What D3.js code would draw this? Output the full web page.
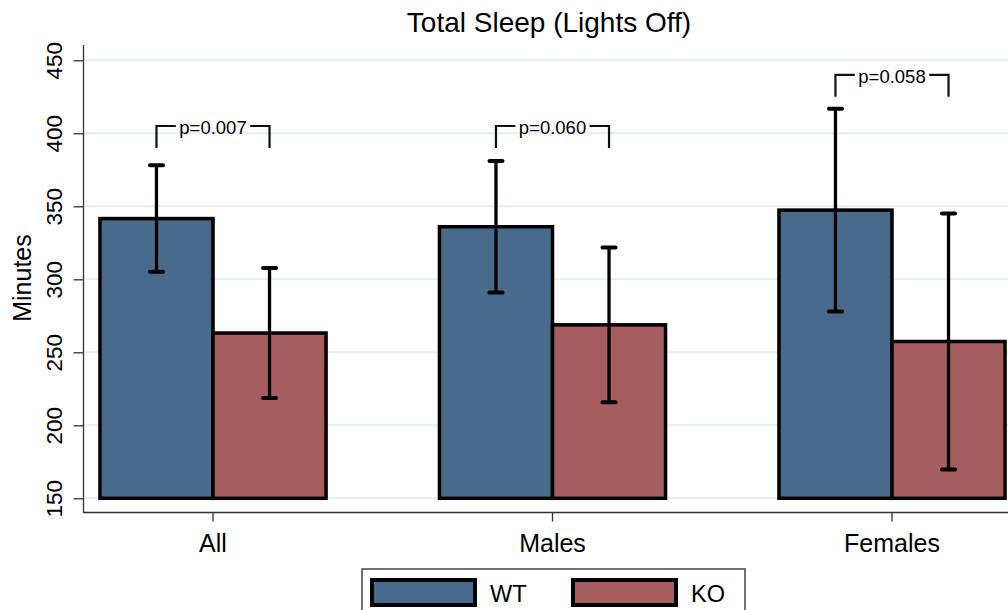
<!DOCTYPE html>
<html>
<head>
<meta charset="utf-8">
<script src="https://cdn.jsdelivr.net/npm/d3@7"></script>
<style>
  html, body { margin: 0; padding: 0; background: #fff; }
  svg { display: block; font-family: "Liberation Sans", Arial, sans-serif; }
</style>
</head>
<body>
<svg id="chart" width="1008" height="610"></svg>
<script>
// ---- data ----
const categories = ["All", "Males", "Females"];
const groups = ["WT", "KO"];
const wtMean = [341.6, 336.0, 347.4];
const wtErr  = [36.5, 45.0, 69.5];
const koMean = [263.2, 268.8, 257.4];
const koErr  = [44.5, 53.0, 87.7];
const pLabels = ["p=0.007", "p=0.060", "p=0.058"];
const bracketTop = [405, 405, 440];
const bracketLeg = [390, 390, 425];
const yTicks = [150, 200, 250, 300, 350, 400, 450];
const colors = { WT: "#486a8b", KO: "#a65d60" };

const rows = categories.map((c, i) => ({
  cat: c,
  bars: [
    { g: "WT", mean: wtMean[i], err: wtErr[i] },
    { g: "KO", mean: koMean[i], err: koErr[i] }
  ]
}));

const svg = d3.select("#chart");
const W = 1008, H = 610;
const axisX = 83.5, axisBottom = 512.5, axisTop = 45;

const y = d3.scaleLinear().domain([150, 450]).range([498.3, 60.3]);
const x = d3.scaleBand().domain(categories).range([84, 1021])
  .paddingInner(0.334).paddingOuter(0.047);
const xi = d3.scaleBand().domain(groups).range([0, x.bandwidth()]);

// gridlines
svg.append("g").selectAll("line").data(yTicks).join("line")
  .attr("x1", axisX + 1).attr("x2", W)
  .attr("y1", d => y(d)).attr("y2", d => y(d))
  .attr("stroke", "#e6eff2").attr("stroke-width", 2);

// axes
const yAxis = d3.axisLeft(y).tickValues(yTicks).tickSize(10).tickFormat(d3.format("d"));
const yg = svg.append("g").attr("transform", `translate(${axisX},0)`).call(yAxis);
yg.select(".domain").remove();
yg.selectAll(".tick line").attr("stroke", "#333").attr("stroke-width", 1.3);
yg.selectAll(".tick text")
  .attr("x", 0).attr("y", 0).attr("dy", 0)
  .attr("transform", "translate(-22,0) rotate(-90)")
  .attr("text-anchor", "middle")
  .attr("font-size", 22.5).attr("fill", "#000")
  .attr("font-family", "Liberation Sans, Arial, sans-serif");
svg.append("line").attr("x1", axisX).attr("x2", axisX)
  .attr("y1", axisTop).attr("y2", axisBottom + 0.5)
  .attr("stroke", "#333").attr("stroke-width", 1.3);

const xAxis = d3.axisBottom(x).tickSize(9);
const xg = svg.append("g").attr("transform", `translate(0,${axisBottom})`).call(xAxis);
xg.select(".domain").remove();
xg.selectAll(".tick line").attr("stroke", "#333").attr("stroke-width", 1.3);
xg.selectAll(".tick text").attr("y", 0).attr("dy", 0)
  .attr("transform", "translate(0,39)")
  .attr("font-size", 25).attr("fill", "#000")
  .attr("font-family", "Liberation Sans, Arial, sans-serif");
svg.append("line").attr("x1", axisX).attr("x2", W)
  .attr("y1", axisBottom).attr("y2", axisBottom)
  .attr("stroke", "#333").attr("stroke-width", 1.3);

// bars
const gGroups = svg.append("g").selectAll("g").data(rows).join("g")
  .attr("transform", d => `translate(${x(d.cat)},0)`);

gGroups.selectAll("rect").data(d => d.bars).join("rect")
  .attr("x", d => xi(d.g))
  .attr("width", xi.bandwidth())
  .attr("y", d => y(d.mean))
  .attr("height", d => y(150) - y(d.mean))
  .attr("fill", d => colors[d.g])
  .attr("stroke", "#000").attr("stroke-width", 3.5);

// error bars
const eb = gGroups.selectAll("g.eb").data(d => d.bars).join("g").attr("class", "eb")
  .attr("transform", d => `translate(${xi(d.g) + xi.bandwidth() / 2},0)`);
eb.append("line")
  .attr("x1", 0).attr("x2", 0)
  .attr("y1", d => y(d.mean + d.err)).attr("y2", d => y(d.mean - d.err))
  .attr("stroke", "#000").attr("stroke-width", 3.3);
eb.selectAll("line.cap").data(d => [d.mean + d.err, d.mean - d.err]).join("line")
  .attr("class", "cap")
  .attr("x1", -6.5).attr("x2", 6.5)
  .attr("y1", v => y(v)).attr("y2", v => y(v))
  .attr("stroke", "#000").attr("stroke-width", 4).attr("stroke-linecap", "round");

// p-value brackets
rows.forEach((r, i) => {
  const gx = x(r.cat);
  const xl = gx + xi("WT") + xi.bandwidth() / 2;
  const xr = gx + xi("KO") + xi.bandwidth() / 2;
  const yt = y(bracketTop[i]), yl = y(bracketLeg[i]);
  const xm = (xl + xr) / 2;
  const t = svg.append("text").attr("x", xm).attr("y", yt + 8)
    .attr("text-anchor", "middle").attr("font-size", 18.5).attr("fill", "#000")
    .text(pLabels[i]);
  const tw = t.node().getComputedTextLength();
  const gap = 3.5;
  const path = `M${xl},${yl}V${yt}H${xm - tw / 2 - gap}M${xm + tw / 2 + gap},${yt}H${xr}V${yl}`;
  svg.append("path").attr("d", path).attr("fill", "none")
    .attr("stroke", "#111").attr("stroke-width", 2.2);
});

// title
svg.append("text").attr("x", 549).attr("y", 32).attr("text-anchor", "middle")
  .attr("font-size", 28).attr("fill", "#000").text("Total Sleep (Lights Off)");

// y axis title
svg.append("text").attr("transform", "translate(31,278) rotate(-90)")
  .attr("text-anchor", "middle").attr("font-size", 25).attr("fill", "#000").text("Minutes");

// legend
const lg = svg.append("g");
lg.append("rect").attr("x", 362).attr("y", 569).attr("width", 383).attr("height", 60)
  .attr("fill", "#fff").attr("stroke", "#444").attr("stroke-width", 1.5);
const legendItems = lg.selectAll("g").data(groups).join("g")
  .attr("transform", (d, i) => `translate(${372 + i * 201},580)`);
legendItems.append("rect").attr("width", 103).attr("height", 25)
  .attr("fill", d => colors[d]).attr("stroke", "#000").attr("stroke-width", 4);
legendItems.append("text").attr("x", 118).attr("y", 22)
  .attr("font-size", 23.5).attr("fill", "#000").text(d => d);
</script>
</body>
</html>
